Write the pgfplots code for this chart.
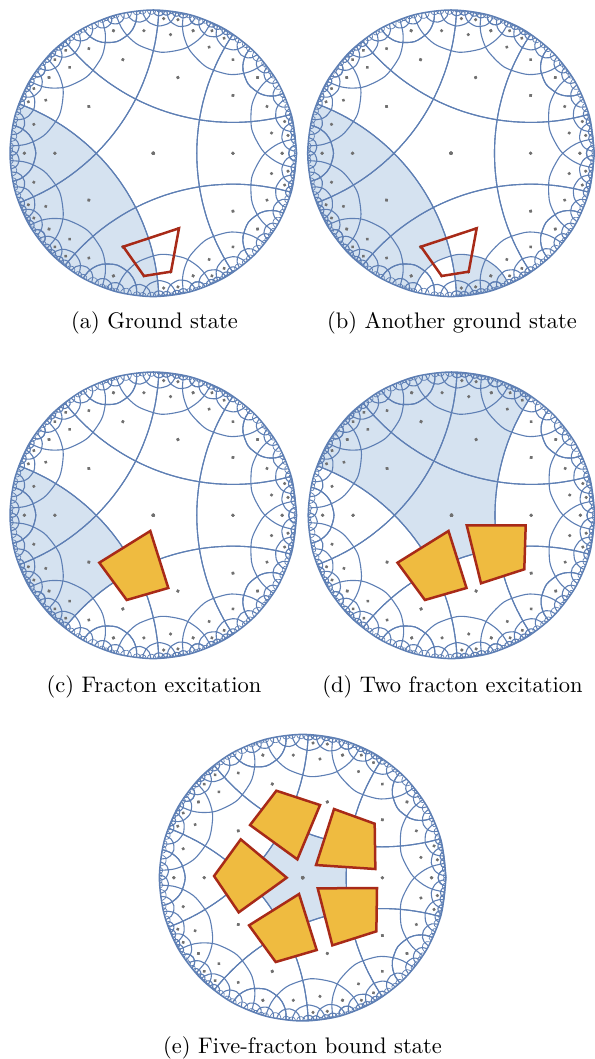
\documentclass[border=0pt]{standalone}
\usepackage{pgfplots}
\pgfplotsset{compat=1.18}
\usepackage{pgfplotstable}

\definecolor{tileline}{RGB}{94,127,180}
\definecolor{regionblue}{RGB}{213,226,240}
\definecolor{dotgray}{RGB}{112,112,112}
\definecolor{fracfill}{RGB}{239,187,64}
\definecolor{fracedge}{RGB}{168,42,24}

% geodesics of the {5,4} tiling in one half sector, as angle (deg) and radius
\pgfplotstableread{
t r
-56.23 1
-56 .8968
-55 .7776
-53 .6678
-50 .5757
-45 .4859
-40 .4299
-36 .3980
-30 .3633
-20 .3275
-10 .3092
0 .3035
10 .3092
20 .3275
30 .3633
36 .3980
40 .4299
45 .4859
50 .5757
53 .6678
55 .7776
56 .8968
56.23 1
0 nan
-5.83 1
-5.055 .90792
-2.915 .83340
1.948 .75816
13.615 .70742
25.282 .75816
30.145 .83340
32.285 .90792
33.06 1
0 nan
24.69 1
25.142 .94570
26.386 .90056
29.214 .85298
36 .81981
42.786 .85298
45.614 .90056
46.858 .94570
47.31 1
0 nan
.84 1
1.072 .97196
1.711 .94790
3.164 .92196
6.65 .90342
10.136 .92196
11.589 .94790
12.228 .97196
12.46 1
0 nan
8.81 1
9.079 .96762
9.818 .93995
11.498 .91023
15.53 .88909
19.562 .91023
21.242 .93995
21.981 .96762
22.25 1
0 nan
29.71 1
30.263 .96667
31.184 .94982
33.395 .93767
35.606 .94982
36.527 .96667
37.08 1
0 nan
18.95 1
19.668 .95691
20.864 .93530
23.735 .91979
26.606 .93530
27.802 .95691
28.52 1
0 nan
13.41 1
13.756 .97897
14.334 .96826
15.72 .96047
17.106 .96826
17.684 .97897
18.03 1
0 nan
10.87 1
11.153 .98281
11.624 .97401
12.755 .96763
13.886 .97401
14.357 .98281
14.64 1
0 nan
6.80 1
7.065 .98385
7.508 .97558
8.57 .96957
9.632 .97558
10.075 .98385
10.34 1
0 nan
3.94 1
4.237 .98196
4.732 .97273
5.92 .96603
7.108 .97273
7.603 .98196
7.90 1
0 nan
-3.24 1
-2.754 .97063
-1.944 .95575
0 .94500
1.944 .95575
2.754 .97063
3.24 1
}\geodesics

% the outermost, smallest arcs
\pgfplotstableread{
t r
33.68 1
34.004 .98663
34.76 .98133
35.516 .98663
35.84 1
0 nan
31.84 1
32.219 .98436
33.105 .97816
33.991 .98436
34.37 1
0 nan
26.71 1
27.407 .97144
29.035 .96023
30.663 .97144
31.36 1
0 nan
22.98 1
23.457 .98038
24.57 .97263
25.683 .98038
26.16 1
0 nan
20.88 1
21.328 .98154
22.375 .97424
23.422 .98154
23.87 1
0 nan
16.89 1
17.427 .97794
18.68 .96924
19.933 .97794
20.47 1
0 nan
14.95 1
15.19 .99008
15.75 .98614
16.31 .99008
16.55 1
0 nan
14.11 1
14.302 .99205
14.75 .98889
15.198 .99205
15.39 1
0 nan
12.77 1
12.944 .99280
13.35 .98993
13.756 .99280
13.93 1
0 nan
11.84 1
12.033 .99199
12.485 .98880
12.937 .99199
13.13 1
0 nan
9.58 1
9.886 .98737
10.60 .98236
11.314 .98737
11.62 1
0 nan
8.17 1
8.348 .99262
8.765 .98967
9.182 .99262
9.36 1
0 nan
7.44 1
7.60 .99335
7.975 .99070
8.35 .99335
8.51 1
0 nan
6.17 1
6.335 .99317
6.72 .99044
7.105 .99317
7.27 1
0 nan
5.17 1
5.372 .99162
5.845 .98829
6.318 .99162
6.52 1
0 nan
2.14 1
2.554 .98295
3.52 .97620
4.486 .98295
4.90 1
0 nan
-.31 1
.006 .98694
.745 .98176
1.484 .98694
1.80 1
}\smallarcs

% centres of the tiles (the gray dots), each a very short round-capped stroke
\pgfplotstableread{
t r
0 -.001
0 .001
0 nan
0 .5549
0 .5569
0 nan
36 .6861
36 .6881
0 nan
9.73 .8361
9.73 .8381
0 nan
22.39 .8570
22.39 .8590
0 nan
0 .8984
0 .9004
0 nan
36 .8985
36 .9005
0 nan
13.6 .9420
13.6 .9440
0 nan
7.56 .9472
7.56 .9492
}\tiledots

\pgfplotstableread{
t r
0 1
15 1
30 1
45 1
60 1
75 1
90 1
105 1
120 1
135 1
150 1
165 1
180 1
195 1
210 1
225 1
240 1
255 1
270 1
285 1
300 1
315 1
330 1
345 1
360 1
}\rim

% shaded regions
\pgfplotstableread{
t r
159.77 1
160 .8968
161 .7776
163 .6678
166 .5757
171 .4859
176 .4299
180 .3980
186 .3633
196 .3275
206 .3092
216 .3035
226 .3092
236 .3275
246 .3633
252 .3980
256 .4299
261 .4859
266 .5757
269 .6678
271 .7776
272 .8968
272.23 1
265 1
255 1
245 1
235 1
225 1
215 1
205 1
195 1
185 1
175 1
165 1
}\regionA

\pgfplotstableread{
t r
159.77 1
160 .8968
161 .7776
163 .6678
166 .5757
171 .4859
176 .4299
180 .3980
186 .3633
196 .3275
206 .3092
216 .3035
226 .3092
236 .3275
246 .3633
252 .3980
256 .4299
261 .4859
266 .5757
269 .6678
270 .7138
269 .7171
266.385 .7295
262.718 .75816
257.855 .8334
255.715 .90792
254.94 1
245 1
235 1
225 1
215 1
205 1
195 1
185 1
175 1
165 1
}\regionBa

\pgfplotstableread{
t r
270 .7138
274.385 .70742
280 .7180
286.052 .75816
290.915 .8334
293.055 .90792
293.83 1
285 1
275 1
272.23 1
272 .8968
271 .7776
}\regionBb

\pgfplotstableread{
t r
159.77 1
160 .8968
161 .7776
163 .6678
166 .5757
171 .4859
176 .4299
180 .3980
186 .3633
196 .3275
206 .3092
216 .3035
226 .3092
236 .3275
246 .3633
252 .3980
248 .4299
243 .4859
238 .5757
235 .6678
233 .7776
232 .8968
231.77 1
225 1
215 1
205 1
195 1
185 1
175 1
165 1
}\regionC

\pgfplotstableread{
t r
159.77 1
160 .8968
161 .7776
163 .6678
166 .5757
171 .4859
176 .4299
180 .3980
186 .3633
196 .3275
206 .3092
216 .3035
226 .3092
236 .3275
246 .3633
252 .3980
258 .3633
268 .3275
278 .3092
288 .3035
298 .3092
308 .3275
318 .3633
324 .3980
330 .3633
340 .3275
350 .3092
360 .3035
370 .3092
380 .3275
390 .3633
396 .3980
400 .4299
405 .4859
410 .5757
413 .6678
415 .7776
416 .8968
416.23 1
425 1
435 1
445 1
455 1
465 1
475 1
485 1
495 1
505 1
515 1
}\regionD

\pgfplotstableread{
t r
-36 .3980
-30 .3633
-20 .3275
-10 .3092
0 .3035
10 .3092
20 .3275
30 .3633
36 .3980
42 .3633
52 .3275
62 .3092
72 .3035
82 .3092
92 .3275
102 .3633
108 .3980
114 .3633
124 .3275
134 .3092
144 .3035
154 .3092
164 .3275
174 .3633
180 .3980
186 .3633
196 .3275
206 .3092
216 .3035
226 .3092
236 .3275
246 .3633
252 .3980
258 .3633
268 .3275
278 .3092
288 .3035
298 .3092
308 .3275
318 .3633
}\regionE

\pgfplotsset{disk/.style={
  hide axis, scale only axis, width=286.6pt, height=286.6pt,
  xmin=-1, xmax=1, ymin=-1, ymax=1, clip=false, anchor=center,
  unbounded coords=jump}}

\newcommand{\copytiling}[2]{%
  \addplot[tileline, line width=1.1pt, smooth, forget plot] table[
    x expr={\thisrow{r}*cos(#1+(#2)*\thisrow{t})},
    y expr={\thisrow{r}*sin(#1+(#2)*\thisrow{t})}] {\geodesics};
  \addplot[tileline, line width=.7pt, smooth, forget plot] table[
    x expr={\thisrow{r}*cos(#1+(#2)*\thisrow{t})},
    y expr={\thisrow{r}*sin(#1+(#2)*\thisrow{t})}] {\smallarcs};
  \addplot[dotgray, line width=3.3pt, line cap=round, sharp plot, forget plot] table[
    x expr={\thisrow{r}*cos(#1+(#2)*\thisrow{t})},
    y expr={\thisrow{r}*sin(#1+(#2)*\thisrow{t})}] {\tiledots};
}
\newcommand{\tiling}{%
  \pgfplotsinvokeforeach{0,72,144,216,288}{\copytiling{##1}{1}\copytiling{##1}{-1}}
  \addplot[tileline, line width=1.5pt, smooth, forget plot] table[
    x expr={cos(\thisrow{t})}, y expr={sin(\thisrow{t})}] {\rim};
}
\newcommand{\shaded}[1]{%
  \addplot[fill=regionblue, draw=none, forget plot] table[
    x expr={\thisrow{r}*cos(\thisrow{t})},
    y expr={\thisrow{r}*sin(\thisrow{t})}] {#1} -- cycle;
}
\tikzset{
  outline/.style={fracedge, line width=2.5pt, line join=miter},
  fracton/.style={draw=fracedge, fill=fracfill, line width=2.5pt, line join=miter},
  caption/.style={scale=2.25, anchor=center, inner sep=0pt}}

\begin{document}
\begin{tikzpicture}[x=1pt, y=1pt]
\useasboundingbox (0,0) rectangle (594,1059);

% (a)
\begin{axis}[disk, at={(153.3pt,905.7pt)}]
\shaded{\regionA}
\tiling
\addplot[outline] coordinates {(-.2094,-.6518) (.1793,-.5234) (.1235,-.8262) (-.0649,-.8562)} -- cycle;
\end{axis}
\node[caption] at (154.5,736) {(a) Ground state};

% (b)
\begin{axis}[disk, at={(451pt,905.7pt)}]
\shaded{\regionBa}
\shaded{\regionBb}
\tiling
\addplot[outline] coordinates {(-.2094,-.6518) (.1793,-.5234) (.1235,-.8262) (-.0649,-.8562)} -- cycle;
\end{axis}
\node[caption] at (452,736) {(b) Another ground state};

% (c)
\begin{axis}[disk, at={(153.3pt,543.7pt)}]
\shaded{\regionC}
\tiling
\addplot[fracton] coordinates {(-.3768,-.3308) (-.0209,-.1096) (.1047,-.5073) (-.1856,-.5911)} -- cycle;
\end{axis}
\node[caption] at (154,372) {(c) Fracton excitation};

% (d)
\begin{axis}[disk, at={(451.5pt,543.7pt)}]
\shaded{\regionD}
\tiling
\addplot[fracton] coordinates {(-.3768,-.3308) (-.0209,-.1096) (.1047,-.5073) (-.1856,-.5911)} -- cycle;
\addplot[fracton] coordinates {(.1061,-.0698) (.5178,-.0698) (.5080,-.3768) (.2059,-.4745)} -- cycle;
\end{axis}
\node[caption] at (452.5,372) {(d) Two fracton excitation};

% (e)
\begin{axis}[disk, at={(302.7pt,181.3pt)}]
\shaded{\regionE}
\tiling
\addplot[fracton] coordinates {(.1047,-.0744) (.5186,-.0721) (.5140,-.3744) (.2070,-.4721)} -- cycle;
\addplot[fracton] coordinates {(.0930,.0884) (.2186,.4791) (.5023,.3767) (.5070,.0605)} -- cycle;
\addplot[fracton] coordinates {(-.0372,.1279) (-.3674,.3674) (-.1837,.6070) (.1209,.5070)} -- cycle;
\addplot[fracton] coordinates {(-.1116,0) (-.4326,.2674) (-.6186,.0116) (-.4465,-.2419)} -- cycle;
\addplot[fracton] coordinates {(-.0256,-.1140) (-.3744,-.3326) (-.1884,-.5884) (.0977,-.5047)} -- cycle;
\end{axis}
\node[caption] at (302.5,11) {(e) Five-fracton bound state};
\end{tikzpicture}
\end{document}
